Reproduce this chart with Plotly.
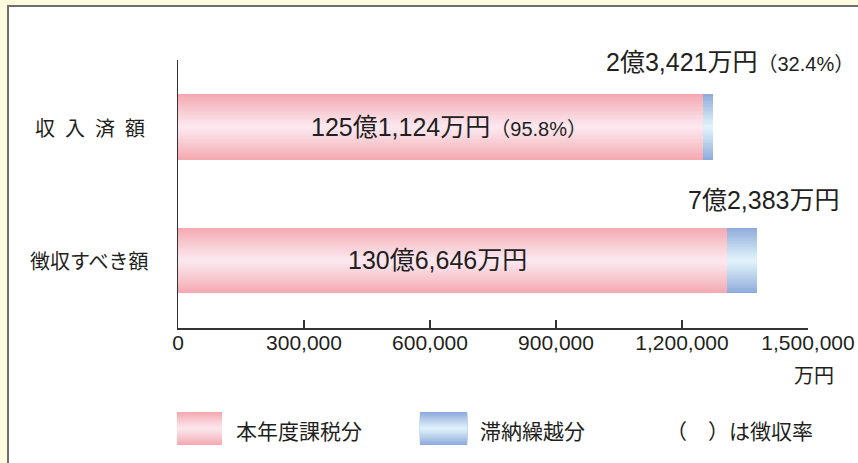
import plotly.graph_objects as go

# ---------------- data ----------------
categories = ["収 入 済 額", "徴収すべき額"]          # top -> bottom
current_year = [1251124, 1306646]                    # 本年度課税分 (万円)
arrears = [23421, 72383]                             # 滞納繰越分 (万円)
inside_labels = ["125億1,124万円", "130億6,646万円"]
inside_rates = ["（95.8%）", ""]
outside_labels = ["2億3,421万円", "7億2,383万円"]
outside_rates = ["（32.4%）", ""]
x_tick_vals = [0, 300000, 600000, 900000, 1200000, 1500000]
x_tick_text = ["0", "300,000", "600,000", "900,000", "1,200,000", "1,500,000"]
legend_names = ["本年度課税分", "滞納繰越分"]
rate_note = "（　）は徴収率"
unit_label = "万円"

# ---------------- styles ----------------
PINK_EDGE, PINK_MID = (244, 170, 176), (252, 233, 241)
BLUE_EDGE, BLUE_MID = (142, 171, 219), (227, 244, 251)
TXT = "#231f20"
LATIN = "Liberation Sans, Noto Sans CJK JP, sans-serif"
CJK = "Noto Sans CJK JP, sans-serif"
N = 20
BAR_W = 0.494


def grad(edge, mid, t):
    t = t ** 1.1
    c = [round(m + (e - m) * t) for e, m in zip(edge, mid)]
    return f"rgb({c[0]},{c[1]},{c[2]})"


fig = go.Figure()

# nested centred bars: widest (edge colour) first, narrowest (middle colour) last
for k in range(N):
    frac = 1 - k / N
    w = BAR_W * frac
    fig.add_trace(go.Bar(
        x=current_year, y=categories, orientation="h",
        width=w, offset=-w / 2,
        marker=dict(color=grad(PINK_EDGE, PINK_MID, frac), line=dict(width=0)),
        showlegend=False, hoverinfo="skip"))
    fig.add_trace(go.Bar(
        x=arrears, y=categories, base=current_year, orientation="h",
        width=w, offset=-w / 2,
        marker=dict(color=grad(BLUE_EDGE, BLUE_MID, frac), line=dict(width=0)),
        showlegend=False, hoverinfo="skip"))

shapes = []
# white panel with grey frame
shapes.append(dict(type="rect", xref="paper", yref="paper",
                   x0=-0.2698, x1=1.12, y0=-0.56, y1=1.2015,
                   fillcolor="white", line=dict(color="#6e6e6e", width=2),
                   layer="below"))


# legend swatches (vertical gradient, nested)
def swatch(x0, x1, edge, mid):
    y_top, y_bot = -0.313, -0.437
    yc, h = (y_top + y_bot) / 2, (y_top - y_bot)
    M = 12
    for k in range(M):
        frac = 1 - k / M
        shapes.append(dict(type="rect", xref="paper", yref="paper",
                           x0=x0, x1=x1, y0=yc - h * frac / 2, y1=yc + h * frac / 2,
                           fillcolor=grad(edge, mid, frac), line=dict(width=0)))


swatch(-0.0016, 0.0698, PINK_EDGE, PINK_MID)
swatch(0.384, 0.459, BLUE_EDGE, BLUE_MID)

ann = []
# category labels
for c in categories:
    ann.append(dict(x=-0.1397, xref="paper", y=c, yref="y", text=c.replace(" ", "\u2002"),
                    showarrow=False, xanchor="center", yanchor="middle",
                    font=dict(family=CJK, size=20, color=TXT)))

# values inside pink bars
in_shift = [8, -15]
for c, v, lab, r, xs in zip(categories, current_year, inside_labels, inside_rates, in_shift):
    txt = lab + (f"<span style='font-size:20px'>{r}</span>" if r else "")
    ann.append(dict(x=v / 2, y=c, text=txt, showarrow=False, xanchor="center",
                    yanchor="middle", xshift=xs,
                    font=dict(family=LATIN, size=25, color=TXT)))

# values above bars (arrears)
out_x = [1.071, 1.049]
out_xshift = [3, 2]
out_shift = [65, 60]
for c, lab, r, xp, xs, ys in zip(categories, outside_labels, outside_rates, out_x, out_xshift, out_shift):
    txt = lab + (f"<span style='font-size:20px'>{r}</span>" if r else "")
    ann.append(dict(x=xp, xref="paper", y=c, text=txt, showarrow=False,
                    xanchor="right", yanchor="middle", xshift=xs, yshift=ys,
                    font=dict(family=LATIN, size=25, color=TXT)))

# unit label
ann.append(dict(x=1.045, xref="paper", y=-0.175, yref="paper", text=unit_label,
                showarrow=False, xanchor="right", yanchor="middle",
                font=dict(family=CJK, size=20, color=TXT)))

# legend texts
for xp, t in zip([0.089, 0.476, 0.771], legend_names + [rate_note]):
    ann.append(dict(x=xp, xref="paper", y=-0.3806, yref="paper", text=t,
                    showarrow=False, xanchor="left", yanchor="middle",
                    font=dict(family=CJK, size=21, color=TXT)))

fig.update_layout(
    width=858, height=463,
    margin=dict(l=178, r=50, t=60, b=135, autoexpand=False),
    paper_bgcolor="#fffbdf", plot_bgcolor="white",
    barmode="overlay", bargap=0,
    shapes=shapes, annotations=ann,
    showlegend=False,
    xaxis=dict(range=[0, 1500000], tickvals=x_tick_vals, ticktext=x_tick_text,
               showgrid=False, zeroline=False, showline=True,
               linecolor="#333333", linewidth=1.5,
               ticks="inside", ticklen=8, tickcolor="#333333", tickwidth=1.3,
               ticklabelstandoff=-5, ticklabeloverflow="allow",
               tickfont=dict(family=LATIN, size=21, color=TXT),
               fixedrange=True),
    yaxis=dict(type="category", categoryarray=categories, categoryorder="array",
               range=[1.506, -0.502], showgrid=False, zeroline=False,
               showline=True, linecolor="#333333", linewidth=1.5,
               showticklabels=False, ticks="", fixedrange=True),
)

fig.write_html("out.html", config={"staticPlot": True},
               post_script="document.body.style.margin='0';document.body.style.overflow='hidden';")
